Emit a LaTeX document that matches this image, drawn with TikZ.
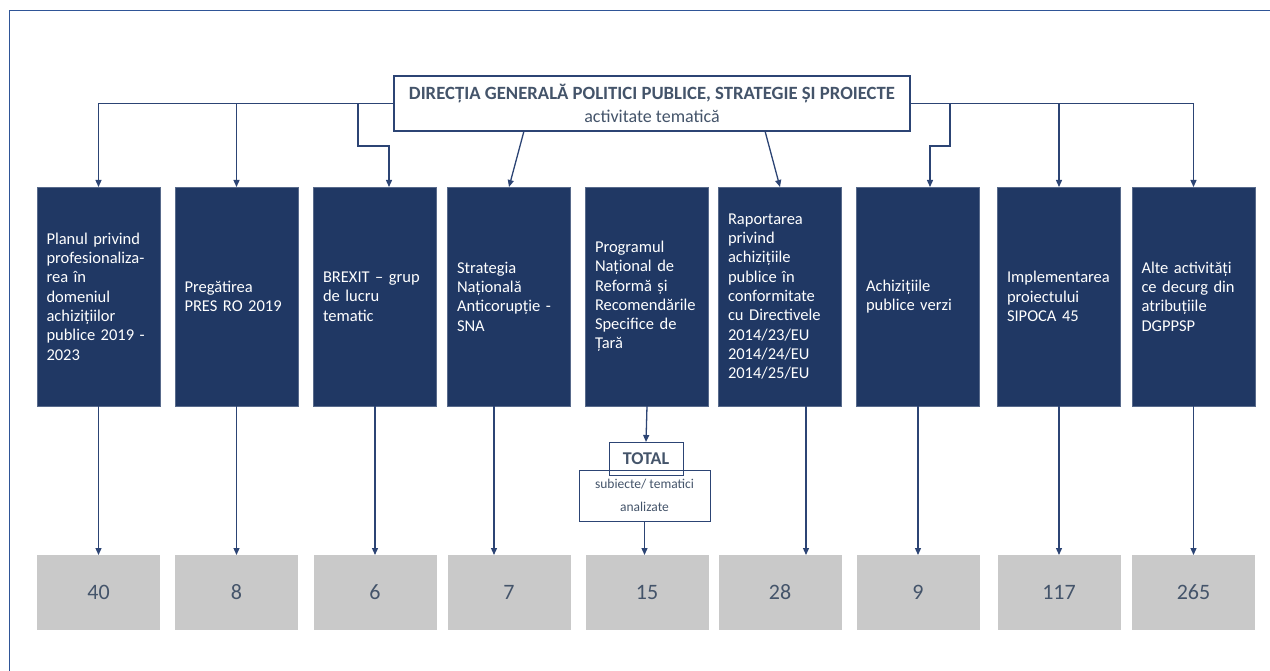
\documentclass[tikz,border=0pt]{standalone}
\usepackage{fontspec}
\setmainfont{Carlito}
\usepackage{tikz}
\usetikzlibrary{positioning, arrows.meta}
\definecolor{navy}{HTML}{203864}
\definecolor{navyline}{HTML}{2C4474}
\definecolor{framecol}{HTML}{2F5597}
\definecolor{slate}{HTML}{44546A}
\definecolor{boxgray}{HTML}{C9C9C9}
\tikzset{
    >={Triangle[length=7pt,width=6pt]}, % small filled heads
    link/.style={draw=navyline, line width=1.3pt, ->}, % every connector
    topic/.style={rectangle, fill=navy, draw=navy!75!white, line width=0.8pt, text=white, text width=104pt, inner xsep=9.5pt, minimum height=219pt, align=left, outer sep=0pt, font=\fontsize{16.5}{19.3}\selectfont}, % dark activity boxes
    count/.style={rectangle, fill=boxgray, minimum width=123pt, minimum height=75pt, inner sep=0pt, outer sep=0pt, text=slate, font=\fontsize{22}{26}\selectfont}, % grey result boxes
    headbox/.style={rectangle, draw=navyline, line width=1.2pt, fill=white, text=slate, minimum width=516pt, minimum height=55pt, align=center, outer sep=0pt, font=\fontsize{18}{23}\selectfont}, % directorate
    totalbox/.style={rectangle, draw=navyline, line width=1pt, text=slate, minimum width=74pt, minimum height=33pt, inner sep=0pt, outer sep=0pt, font=\fontsize{18}{20}\selectfont\bfseries},
    subbox/.style={rectangle, draw=navyline, line width=1pt, text=slate, minimum width=131pt, minimum height=51pt, inner sep=0pt, outer sep=0pt, align=center, font=\fontsize{13.5}{23}\selectfont},
}

\begin{document}
\begin{tikzpicture}[x=1pt, y=-1pt]
    \useasboundingbox (0,0) rectangle (1270,671);
    \draw[framecol, line width=1pt] (9,671) -- (9,11) -- (1270,11);

    \node[headbox] (top) at (652,103.5) {\fontsize{18.7}{23}\selectfont\bfseries DIRECȚIA GENERALĂ POLITICI PUBLICE, STRATEGIE ȘI PROIECTE\\activitate tematică};

    \node[topic] (b1) at (98.5,296.5) {Planul privind\\profesionaliza-\\rea în\\domeniul\\achizițiilor\\publice 2019 -\\2023};
    \node[topic] (b2) at (236.5,296.5) {Pregătirea\\PRES RO 2019};
    \node[topic] (b3) at (375,296.5) {BREXIT – grup\\de lucru\\tematic};
    \node[topic] (b4) at (509,296.5) {Strategia\\Națională\\Anticorupție -\\SNA};
    \node[topic] (b5) at (647,296.5) {Programul\\Național de\\Reformă și\\Recomendările\\Specifice de\\Țară};
    \node[topic] (b6) at (780,296.5) {Raportarea\\privind\\achizițiile\\publice în\\conformitate\\cu Directivele\\2014/23/EU\\2014/24/EU\\2014/25/EU};
    \node[topic] (b7) at (918,296.5) {Achizițiile\\publice verzi};
    \node[topic] (b8) at (1059,296.5) {Implementarea\\proiectului\\SIPOCA 45};
    \node[topic] (b9) at (1193.5,296.5) {Alte activități\\ce decurg din\\atribuțiile\\DGPPSP};

    \node[count] (g1) [below=149pt of b1] {40};
    \node[count] (g2) [below=149pt of b2] {8};
    \node[count] (g3) [below=149pt of b3] {6};
    \node[count] (g4) [below=149pt of b4] {7};
    \node[count] (g5) [below=149pt of b5] {15};
    \node[count] (g6) [below=149pt of b6] {28};
    \node[count] (g7) [below=149pt of b7] {9};
    \node[count] (g8) [below=149pt of b8] {117};
    \node[count] (g9) [below=149pt of b9] {265};

    \node[subbox] (sub) at (644.5,495.5) {subiecte/ tematici\\analizate};
    \node[totalbox] (tot) at (646,458.5) {TOTAL};

    \coordinate (jl) at (358,146);
    \coordinate (jr) at (950,146);

    \draw[link] (top.west) -| (b1.north);
    \draw[link] (top.west) -| (b2.north);
    \draw[link] (top.west) -| (jl) -| ([xshift=14pt]b3.north);
    \draw[link] ([xshift=-128pt]top.south) -- (b4.north);
    \draw[link] ([xshift=113pt]top.south) -- (b6.north);
    \draw[link] (top.east) -| (jr) -| ([xshift=12pt]b7.north);
    \draw[link] (top.east) -| (b8.north);
    \draw[link] (top.east) -| (b9.north);

    \draw[link] (b1) -- (g1);
    \draw[link] (b2) -- (g2);
    \draw[link] (b3) -- (g3);
    \draw[link] ([xshift=-15pt]b4.south) -- ([xshift=-15pt]g4.north);
    \draw[link] (b5.south) -- (tot.north);
    \draw[link] (sub.south) -- (sub.south |- g5.north);
    \draw[link] ([xshift=26pt]b6.south) -- ([xshift=26pt]g6.north);
    \draw[link] (b7) -- (g7);
    \draw[link] (b8) -- (g8);
    \draw[link] (b9) -- (g9);
\end{tikzpicture}
\end{document}
